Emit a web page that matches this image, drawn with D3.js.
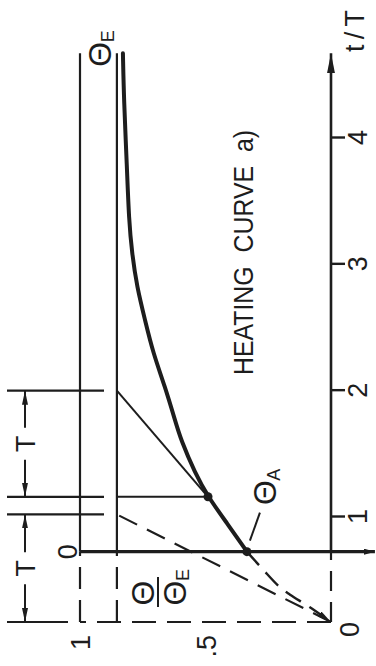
<!DOCTYPE html>
<html>
<head>
<meta charset="utf-8">
<script src="https://cdn.jsdelivr.net/npm/d3@7"></script>
<style>
  html, body { margin: 0; padding: 0; background: #fff; }
  svg { display: block; }
  text { font-family: "Liberation Sans", Arial, sans-serif; fill: #1d1d1d; white-space: pre; }
</style>
</head>
<body>
<div id="chart"></div>
<script>
// axis ticks
const timeTicks = [0, 1, 2, 3, 4];
const ratioTicks = [1, 0.5];
const ratioTickLabels = ['1', '.5'];

// heating curve (t/T , Θ/Θ_E)
const curveT = [0.67, 0.94, 1.16, 1.35, 1.61, 1.77, 2.03, 2.30, 2.56, 2.82, 3.09, 3.35, 3.77, 4.30, 4.67];
const curveTheta = [0.335, 0.414, 0.49, 0.542, 0.598, 0.622, 0.661, 0.709, 0.741, 0.773, 0.793, 0.805, 0.813, 0.825, 0.829];

// dashed start of the curve, from Θ_A back to the origin
const startT = [0.67, 0.50, 0.33, 0.26, 0.14, 0];
const startTheta = [0.335, 0.271, 0.203, 0.163, 0.084, 0];

// marked instants / levels
const tStart = 0.67;     // heating begins at Θ_A
const tPoint = 1.16;     // second marked point on the curve
const tReach = 2.0;      // its tangent meets Θ_E
const tOne = 1.02;       // dashed initial tangent meets Θ_E
const tEnd = 4.67;
const thetaE = 0.853;
const thetaA = 0.335;
const thetaPoint = 0.49;
const thetaLow = -0.175; // start line runs past the time axis

const W = 376, H = 666;
const ink = '#1d1d1d';

const svg = d3.select('#chart').append('svg')
  .attr('width', W)
  .attr('height', H);

// arrow heads
const defs = svg.append('defs');
function marker(id, len, half) {
  defs.append('marker')
    .attr('id', id)
    .attr('markerUnits', 'userSpaceOnUse')
    .attr('viewBox', `0 ${-half} ${len} ${half * 2}`)
    .attr('markerWidth', len)
    .attr('markerHeight', half * 2)
    .attr('refX', len)
    .attr('refY', 0)
    .attr('orient', 'auto')
    .append('path')
    .attr('d', `M0,${-half}L${len},0L0,${half}Z`)
    .attr('fill', ink);
}
marker('arrowAxis', 20, 4);
marker('arrowDim', 14, 3);
marker('arrowSmall', 11, 3);

// the sketch is drawn turned a quarter turn: time runs up the page
const g = svg.append('g')
  .attr('transform', `translate(0,${H}) rotate(-90)`);

const x = d3.scaleLinear().domain([0, 1, 4]).range([44, 149, 528]);
const y = d3.scaleLinear().domain([0, 1]).range([331, 80]);

function seg(t1, v1, t2, v2, width, dash) {
  return g.append('line')
    .attr('x1', x(t1)).attr('y1', y(v1))
    .attr('x2', x(t2)).attr('y2', y(v2))
    .attr('stroke', ink)
    .attr('stroke-width', width)
    .attr('stroke-dasharray', dash || null);
}

// --- reference levels Θ/Θ_E = 1 and Θ_E ---
seg(tStart, 1, tEnd, 1, 2.2);
seg(0, 1, tStart, 1, 2.2, '22,11');
seg(tStart, thetaE, tEnd, thetaE, 2.2);
seg(0, thetaE, tStart, thetaE, 2.2, '22,11');

// --- Θ axis (dashed) and time axis ---
seg(0, 0, 0, 1, 2.2, '24,11');
seg(0, 0, tStart, 0, 2.2, '20,11');
seg(tStart, 0, tEnd, 0, 2.6).attr('marker-end', 'url(#arrowAxis)');

const xAxis = g.append('g')
  .attr('transform', `translate(0,${y(0)})`)
  .call(d3.axisBottom(x).tickValues(timeTicks).tickSize(14).tickPadding(3).tickFormat(d3.format('d')));
xAxis.select('.domain').remove();
xAxis.selectAll('.tick line').attr('stroke', ink).attr('stroke-width', 2.4);
xAxis.selectAll('.tick text')
  .attr('fill', ink)
  .style('font-size', '27px')
  .style('font-family', '"Liberation Sans", Arial, sans-serif');
const zeroTick = xAxis.selectAll('.tick').filter(d => d === 0);
zeroTick.select('line').remove();
zeroTick.select('text').attr('x', -8).attr('y', 9);

const yAxis = g.append('g')
  .attr('transform', `translate(${x(0)},0)`)
  .call(d3.axisLeft(y).tickValues(ratioTicks).tickSize(0).tickPadding(13)
    .tickFormat((d, i) => ratioTickLabels[i]));
yAxis.select('.domain').remove();
yAxis.selectAll('.tick text')
  .attr('fill', ink)
  .attr('dy', '0.36em')
  .style('font-size', '27px')
  .style('font-family', '"Liberation Sans", Arial, sans-serif');

// --- start line at Θ_A ---
seg(tStart, 1, tStart, thetaLow, 3.2).attr('marker-end', 'url(#arrowSmall)');

// --- extension lines for the T dimensions ---
[0, tOne, tPoint, tReach].forEach(t => {
  g.append('line')
    .attr('x1', x(t)).attr('x2', x(t))
    .attr('y1', 7).attr('y2', t === 0 ? 68 : 104)
    .attr('stroke', ink)
    .attr('stroke-width', 2.2);
});

// --- construction lines ---
seg(tPoint, thetaE, tPoint, thetaPoint, 2);
seg(tPoint, thetaPoint, tReach, thetaE, 2);
seg(0, 0, tOne, thetaE, 2.2, '20,11');

const line = d3.line()
  .x(d => x(d[0]))
  .y(d => y(d[1]));

g.append('path')
  .attr('d', line.curve(d3.curveCatmullRom)(d3.zip(startT, startTheta)))
  .attr('fill', 'none')
  .attr('stroke', ink)
  .attr('stroke-width', 2.4)
  .attr('stroke-dasharray', '18,10')
  .attr('marker-end', 'url(#arrowDim)');

// --- heating curve ---
g.append('path')
  .attr('d', line.curve(d3.curveBasis)(d3.zip(curveT, curveTheta)))
  .attr('fill', 'none')
  .attr('stroke', ink)
  .attr('stroke-width', 4)
  .attr('stroke-linecap', 'round');

g.selectAll('circle.pt')
  .data([[tStart, thetaA], [tPoint, thetaPoint]])
  .join('circle')
  .attr('class', 'pt')
  .attr('cx', d => x(d[0]))
  .attr('cy', d => y(d[1]))
  .attr('r', 4.5)
  .attr('fill', ink);

// --- T dimensions ---
function dimension(t1, t2, label) {
  const a = x(t1), b = x(t2), mid = (a + b) / 2, v = 25;
  g.append('line')
    .attr('x1', mid - 16).attr('x2', a).attr('y1', v).attr('y2', v)
    .attr('stroke', ink).attr('stroke-width', 2)
    .attr('marker-end', 'url(#arrowDim)');
  g.append('line')
    .attr('x1', mid + 16).attr('x2', b).attr('y1', v).attr('y2', v)
    .attr('stroke', ink).attr('stroke-width', 2)
    .attr('marker-end', 'url(#arrowDim)');
  g.append('text')
    .attr('x', mid).attr('y', 35)
    .attr('text-anchor', 'middle')
    .style('font-size', '27px')
    .text(label);
}
dimension(0, tOne, 'T');
dimension(tPoint, tReach, 'T');

g.append('text')
  .attr('x', x(tStart)).attr('y', 77)
  .attr('text-anchor', 'middle')
  .style('font-size', '27px')
  .text('0');

// --- symbols ---
function theta(u, v, sub) {
  g.append('text')
    .attr('x', u).attr('y', v + 11.5)
    .attr('text-anchor', 'middle')
    .style('font-size', '32px')
    .text('Θ');
  if (sub) {
    g.append('text')
      .attr('x', u + 12).attr('y', v + 15)
      .style('font-size', '18px')
      .text(sub);
  }
}

theta(x(tEnd) - 1, 99, 'E');
theta(x(tStart) + 59, y(thetaA) + 18, 'A');

// leader to Θ_A
g.append('line')
  .attr('x1', x(tStart) + 11).attr('y1', y(thetaA) + 3)
  .attr('x2', x(tStart) + 39).attr('y2', y(thetaA) + 13)
  .attr('stroke', ink).attr('stroke-width', 2);

// Θ / Θ_E fraction
theta(73, 142);
g.append('line')
  .attr('x1', 59).attr('x2', 89)
  .attr('y1', 158).attr('y2', 158)
  .attr('stroke', ink).attr('stroke-width', 2);
theta(73, 174, 'E');

// --- titles ---
g.append('text')
  .attr('x', 291).attr('y', 253)
  .attr('textLength', 245)
  .attr('lengthAdjust', 'spacingAndGlyphs')
  .attr('xml:space', 'preserve')
  .style('font-size', '28px')
  .text('HEATING  CURVE  a)');

g.append('text')
  .attr('x', 614).attr('y', 364)
  .attr('textLength', 42)
  .attr('lengthAdjust', 'spacing')
  .style('font-size', '27px')
  .text('t/T');
</script>
</body>
</html>
